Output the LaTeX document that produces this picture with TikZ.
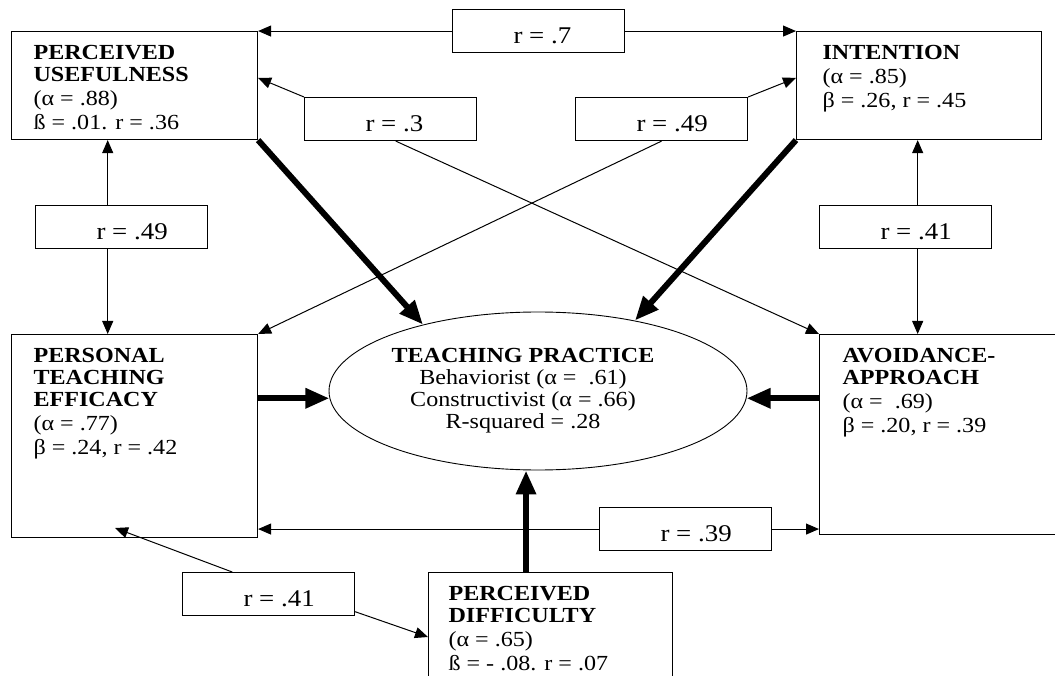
\documentclass[tikz,border=0pt]{standalone}
\usepackage{fontspec}
\setmainfont{Liberation Serif}[FakeStretch=1.12]
\usetikzlibrary{shapes.geometric, arrows.meta, positioning, calc}

\newcommand{\factortext}[3]{\parbox[c][#2][t]{#1}{\raggedright\rule{0pt}{28pt}#3}}
\newcommand{\rtext}[1]{\makebox[172pt][l]{\hspace*{61pt}#1}}

\begin{document}
\begin{tikzpicture}[x=1pt, y=-1pt,
  every node/.style={font={\fontsize{21.5}{22}\selectfont}},
  factor/.style={draw, rectangle, fill=white, anchor=north west, inner xsep=22pt, inner ysep=0pt, line width=1.1pt},
  rbox/.style={draw, rectangle, fill=white, anchor=north west, inner sep=0pt, minimum height=43pt, text height=25pt, text depth=0pt, line width=1.1pt, font={\fontsize{24}{26}\selectfont}},
  thinarrow/.style={-{Triangle[length=13pt,width=11pt]}, line width=1pt},
  thickarrow/.style={-{Triangle[length=24pt,width=19pt]}, line width=6pt}]
\clip (0,0) rectangle (1055,676);

\node (pu) [factor] at (11,31) {\factortext{202pt}{108pt}{\textbf{PERCEIVED}\\ \textbf{USEFULNESS}\\[2pt] (α = .88)\\[1.5pt] ß = .01. r = .36}};
\node (int) [factor, inner xsep=26pt] at (796,31) {\factortext{193pt}{108pt}{\textbf{INTENTION}\\[2pt] (α = .85)\\[1.5pt] β = .26, r = .45}};
\node (pte) [factor] at (11,334) {\factortext{202pt}{203pt}{\textbf{PERSONAL}\\ \textbf{TEACHING}\\ \textbf{EFFICACY}\\[2pt] (α = .77)\\[1.5pt] β = .24, r = .42}};
\node (aa) [factor, inner xsep=23pt] at (819,334) {\factortext{204pt}{200pt}{\textbf{AVOIDANCE-}\\ \textbf{APPROACH}\\[2pt] (α = \ .69)\\[1.5pt] β = .20, r = .39}};
\node (pd) [factor, inner xsep=20pt] at (428,572) {\factortext{204pt}{125pt}{\textbf{PERCEIVED}\\ \textbf{DIFFICULTY}\\[2pt] (α = .65)\\[1.5pt] ß = - .08. r = .07}};
\node (tp) [draw, ellipse, minimum width=418pt, minimum height=158pt, inner sep=0pt, line width=0.9pt] at (538,391) {\begin{tabular}{@{}c@{}}\textbf{TEACHING PRACTICE}\\ Behaviorist (α = \ .61)\\ Constructivist (α = .66)\\ R-squared = .28\end{tabular}\hspace*{30pt}};

\node (rPuInt) [rbox] at (452,9) {\rtext{r = .7}};
\node (rPuAa) [rbox] at (304,97) {\rtext{r = .3}};
\node (rIntPte) [rbox] at (575,97) {\rtext{r = .49}};
\node (rPuPte) [rbox] at (35,205) {\rtext{r = .49}};
\node (rIntAa) [rbox] at (819,205) {\rtext{r = .41}};
\node (rPteAa) [rbox] at (599,507) {\rtext{r = .39}};
\node (rPteDp) [rbox] at (182,572) {\rtext{r = .41}};

\draw[thinarrow] (rPuInt.west) -- (rPuInt.west -| pu.east);
\draw[thinarrow] (rPuInt.east) -- (rPuInt.east -| int.west);
\draw[thinarrow] (rPuAa.north west) -- ($(pu.north east)!0.43!(pu.south east)$);
\draw[thinarrow] ($(rPuAa.south west)!0.53!(rPuAa.south east)$) -- (aa.north west);
\draw[thinarrow] (rIntPte.north east) -- ($(int.north west)!0.43!(int.south west)$);
\draw[thinarrow] ($(rIntPte.south west)!0.5!(rIntPte.south east)$) -- (pte.north east);
\coordinate (puPteUp) at ($(rPuPte.north west)!0.42!(rPuPte.north east)$);
\coordinate (puPteDown) at ($(rPuPte.south west)!0.42!(rPuPte.south east)$);
\draw[thinarrow] (puPteUp) -- (puPteUp |- pu.south);
\draw[thinarrow] (puPteDown) -- (puPteDown |- pte.north);
\coordinate (intAaUp) at ($(rIntAa.north west)!0.57!(rIntAa.north east)$);
\coordinate (intAaDown) at ($(rIntAa.south west)!0.57!(rIntAa.south east)$);
\draw[thinarrow] (intAaUp) -- (intAaUp |- int.south);
\draw[thinarrow] (intAaDown) -- (intAaDown |- aa.north);
\draw[thinarrow] (rPteAa.west) -- (rPteAa.west -| pte.east);
\draw[thinarrow] (rPteAa.east) -- (rPteAa.east -| aa.west);
\coordinate (pteIn) at (115,528);
\draw[thinarrow] ($(rPteDp.north west)!0.29!(rPteDp.north east)$) -- (pteIn);
\draw[thinarrow] ($(rPteDp.north east)!0.9!(rPteDp.south east)$) -- ([yshift=-65pt]pd.north west);

\draw[thickarrow] (pu.south east) -- (tp.150);
\draw[thickarrow] (int.south west) -- (tp.36);
\draw[thickarrow] (tp.182 -| pte.east) -- (tp.182);
\draw[thickarrow] (tp.358 -| aa.west) -- (tp.358);
\coordinate (pdTop) at ($(pd.north west)!0.4!(pd.north east)$);
\draw[thickarrow] (pdTop) -- (pdTop |- tp.south);
\end{tikzpicture}
\end{document}
